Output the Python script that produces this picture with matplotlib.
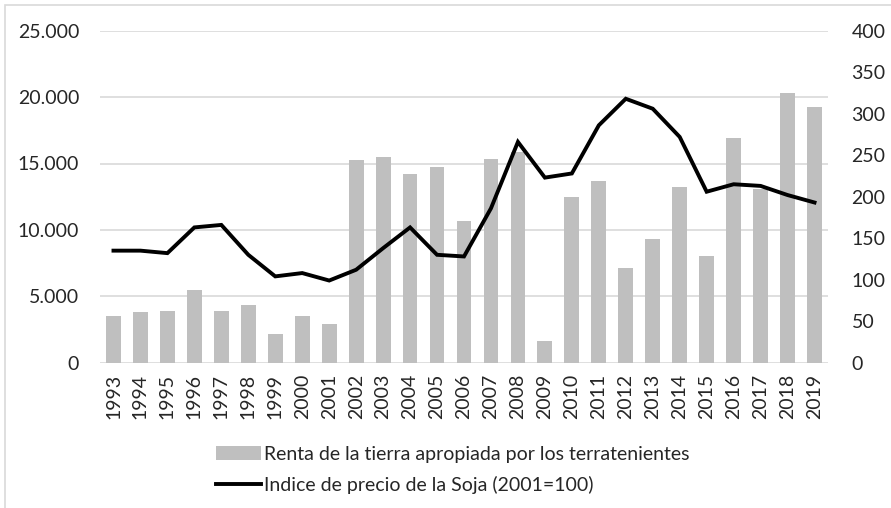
import matplotlib
matplotlib.use("Agg")
import matplotlib.pyplot as plt
from matplotlib.patches import Rectangle
from matplotlib.ticker import FuncFormatter

# datos
years = [str(y) for y in range(1993, 2020)]
renta = [3500, 3800, 3900, 5450, 3900, 4350, 2150, 3500, 2950, 15250,
         15500, 14200, 14750, 10650, 15350, 15900, 1600, 12450, 13650, 7100,
         9300, 13200, 8050, 16900, 13100, 20300, 19250]
indice_soja = [135, 135, 132, 163, 166, 130, 104, 108, 99, 112,
               138, 163, 130, 128, 186, 266, 223, 228, 286, 318,
               306, 272, 206, 215, 213, 202, 193]

left_ticks = [0, 5000, 10000, 15000, 20000, 25000]
right_ticks = [0, 50, 100, 150, 200, 250, 300, 350, 400]

tick_font = "Lato"
legend_font = ["Lato", "DejaVu Sans"]

fig = plt.figure(figsize=(8.91, 5.08), dpi=100)
ax = fig.add_axes([100 / 891, 1 - 362.7 / 508, 728 / 891, 332 / 508])
ax2 = ax.twinx()

x = range(len(years))
bars = ax.bar(x, renta, width=0.55, color="#bfbfbf", zorder=2,
              label="Renta de la tierra apropiada por los terratenientes")
line, = ax2.plot(x, indice_soja, color="black", linewidth=2.8,
                 solid_joinstyle="miter",
                 label="Indice de precio de la Soja (2001=100)")

ax.set_ylim(0, 25000)
ax.set_yticks(left_ticks)
ax.yaxis.set_major_formatter(FuncFormatter(lambda v, p: f"{int(v):,}".replace(",", ".")))
ax2.set_ylim(0, 400)
ax2.set_yticks(right_ticks)
ax.set_xlim(-0.5, len(years) - 0.5)
ax.set_xticks(list(x))
ax.set_xticklabels(years, rotation=90)

ax.grid(axis="y", color="#d9d9d9", linewidth=1.2, zorder=0)
ax.set_axisbelow(True)
for a in (ax, ax2):
    for s in a.spines.values():
        s.set_visible(False)
    a.tick_params(length=0, labelsize=14, labelcolor="#262626")
    for lbl in a.get_yticklabels() + a.get_xticklabels():
        lbl.set_fontfamily(tick_font)
ax.tick_params(axis="y", pad=15)
ax2.tick_params(axis="y", pad=17)
ax.tick_params(axis="x", pad=8)

leg = fig.legend([bars, line], [bars.get_label(), line.get_label()],
                 loc="center", bbox_to_anchor=(0.508, 0.075), ncol=1,
                 frameon=False, handlelength=2.3, handletextpad=0.15,
                 labelspacing=0.7, prop={"family": legend_font, "size": 14})
for t in leg.get_texts():
    t.set_color("#262626")

# marco exterior (recortado a la derecha y abajo)
fig.patches.append(Rectangle((5 / 891, -0.05), 1.1, 1 - 5 / 508 + 0.05,
                             transform=fig.transFigure, fill=False,
                             edgecolor="#d9d9d9", linewidth=1.2))

fig.savefig("out.png", dpi=100)
